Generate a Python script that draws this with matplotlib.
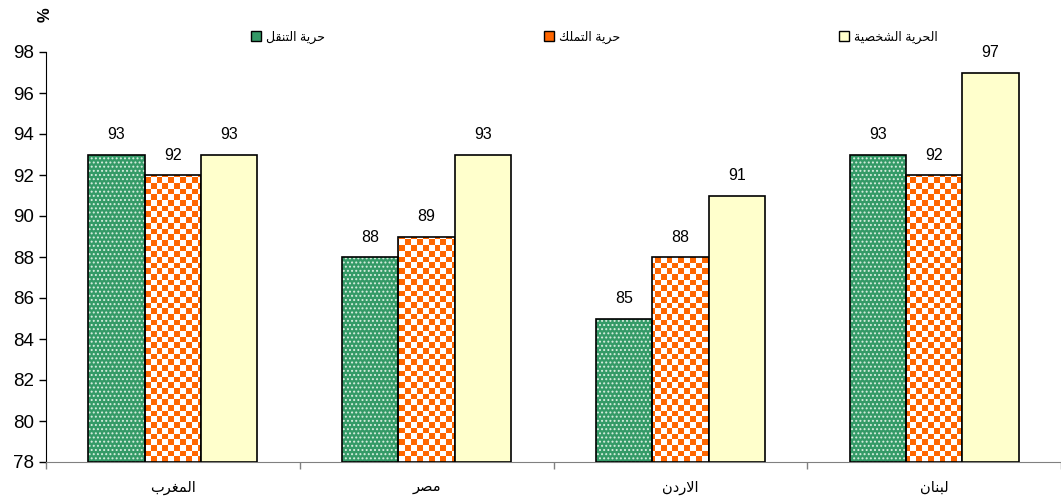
# -*- coding: utf-8 -*-
import numpy as np
import matplotlib
matplotlib.use("Agg")
import matplotlib.pyplot as plt
from matplotlib.patches import Patch
from matplotlib.colors import ListedColormap

plt.rcParams['font.family'] = ['Liberation Sans', 'DejaVu Sans']
plt.rcParams['hatch.linewidth'] = 0.9

countries = ['المغرب', 'مصر', 'الاردن', 'لبنان']
movement = [93, 88, 85, 93]    # حرية التنقل
ownership = [92, 89, 88, 92]   # حرية التملك
personal = [93, 93, 91, 97]    # الحرية الشخصية
series_names = ['حرية التنقل', 'حرية التملك', 'الحرية الشخصية']
yticks = [78, 80, 82, 84, 86, 88, 90, 92, 94, 96, 98]

# presentation forms: isolated, final, initial, medial
FORMS = {
    'ا': '\ufe8d\ufe8e', 'ب': '\ufe8f\ufe90\ufe91\ufe92', 'ة': '\ufe93\ufe94',
    'ت': '\ufe95\ufe96\ufe97\ufe98', 'ح': '\ufea1\ufea2\ufea3\ufea4',
    'خ': '\ufea5\ufea6\ufea7\ufea8', 'د': '\ufea9\ufeaa', 'ر': '\ufead\ufeae',
    'ش': '\ufeb5\ufeb6\ufeb7\ufeb8', 'ص': '\ufeb9\ufeba\ufebb\ufebc',
    'غ': '\ufecd\ufece\ufecf\ufed0', 'ق': '\ufed5\ufed6\ufed7\ufed8',
    'ك': '\ufed9\ufeda\ufedb\ufedc', 'ل': '\ufedd\ufede\ufedf\ufee0',
    'م': '\ufee1\ufee2\ufee3\ufee4', 'ن': '\ufee5\ufee6\ufee7\ufee8',
    'ي': '\ufef1\ufef2\ufef3\ufef4',
}


def dual(c):
    return c in FORMS and len(FORMS[c]) == 4


def ar(s):
    # matplotlib has no arabic shaping: pick joined forms and reverse
    out = []
    i = 0
    n = len(s)
    while i < n:
        c = s[i]
        if c not in FORMS:
            out.append(c)
            i += 1
            continue
        jp = i > 0 and dual(s[i - 1])
        if c == 'ل' and i + 1 < n and s[i + 1] == 'ا':
            out.append('\ufefc' if jp else '\ufefb')
            i += 2
            continue
        jn = dual(c) and i + 1 < n and s[i + 1] in FORMS
        f = FORMS[c]
        if jp and jn:
            g = f[3]
        elif jp:
            g = f[1]
        elif jn:
            g = f[2]
        else:
            g = f[0]
        out.append(g)
        i += 1
    return ''.join(reversed(out))


green = '#349a67'
orange = '#ff6600'
yellow = '#ffffcc'

fig = plt.figure(figsize=(10.61, 5.0), dpi=100)
ax = fig.add_axes([46 / 1061, 0.076, 1 - 46 / 1061, 0.82])

x = np.arange(len(countries))
w = 0.222
bottom = 78

# green dotted bars
ax.bar(x - w, np.array(movement) - bottom, w, bottom=bottom, color=green,
       edgecolor='#d8eee0', hatch='....', linewidth=0, zorder=2)
ax.bar(x - w, np.array(movement) - bottom, w, bottom=bottom, fill=False,
       edgecolor='black', linewidth=1.2, zorder=4)

# orange checker bars
ob = ax.bar(x, np.array(ownership) - bottom, w, bottom=bottom, color='white',
            edgecolor='none', linewidth=0, zorder=2)
nx, ny = 175, 72
checker = (np.indices((ny, nx)).sum(axis=0) % 2)
cmap = ListedColormap(['white', orange])
for rect in ob:
    im = ax.imshow(checker, cmap=cmap, extent=[-0.5, 3.5, 78, 98],
                   aspect='auto', interpolation='nearest', zorder=3)
    im.set_clip_path(rect)
ax.bar(x, np.array(ownership) - bottom, w, bottom=bottom, fill=False,
       edgecolor='black', linewidth=1.2, zorder=4)

# yellow bars
ax.bar(x + w, np.array(personal) - bottom, w, bottom=bottom, color=yellow,
       edgecolor='black', linewidth=1.2, zorder=4)

for vals, off in [(movement, -w), (ownership, 0), (personal, w)]:
    for xi, v in zip(x, vals):
        ax.annotate(str(v), (xi + off, v), xytext=(0, 9),
                    textcoords='offset points', ha='center', va='bottom',
                    fontsize=11.5)

ax.set_xlim(-0.5, 3.5)
ax.set_ylim(78, 98)
ax.set_yticks(yticks)
ax.tick_params(axis='y', labelsize=13.5, length=5, width=1, direction='out')
ax.set_xticks([-0.5, 0.5, 1.5, 2.5, 3.5])
ax.set_xticklabels([])
ax.tick_params(axis='x', length=5, width=1, color='#808080')
for xi, name in zip(x, countries):
    ax.text(xi, -0.045, ar(name), transform=ax.get_xaxis_transform(),
            ha='center', va='top', fontsize=10.5)

for s in ['top', 'right']:
    ax.spines[s].set_visible(False)
ax.spines['left'].set_color('black')
ax.spines['bottom'].set_color('#808080')

fig.text(0.043, 0.97, '%', rotation=90, fontsize=12, fontweight='bold',
         ha='center', va='center')

handles = [
    Patch(facecolor=green, edgecolor='black', linewidth=1),
    Patch(facecolor=orange, edgecolor='black', linewidth=1),
    Patch(facecolor=yellow, edgecolor='black', linewidth=1),
]
fig.legend(handles, [ar(s) for s in series_names], loc='center',
           bbox_to_anchor=(0.56, 0.926), ncol=3, frameon=False, fontsize=9,
           handlelength=0.8, handleheight=0.8, handletextpad=0.4,
           columnspacing=17.5)

fig.savefig('out.png', dpi=100)
